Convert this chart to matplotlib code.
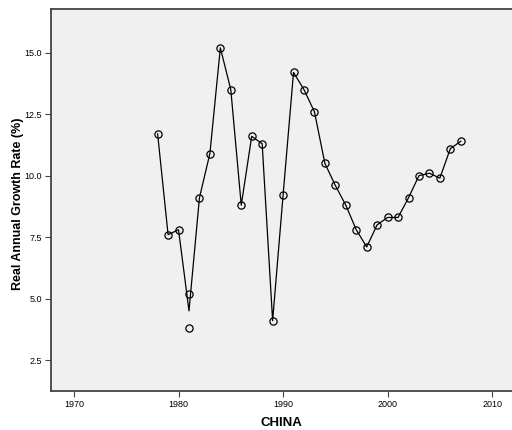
from matplotlib import pyplot as plt
from matplotlib.ticker import FormatStrFormatter
import pandas as pd

years = [1978, 1979, 1980, 1981, 1981, 1982, 1983, 1984, 1985, 1986, 1987,
         1988, 1989, 1990, 1991, 1992, 1993, 1994, 1995, 1996, 1997, 1998,
         1999, 2000, 2001, 2002, 2003, 2004, 2005, 2006, 2007]
growth = [11.7, 7.6, 7.8, 5.2, 3.8, 9.1, 10.9, 15.2, 13.5, 8.8, 11.6,
          11.3, 4.1, 9.2, 14.2, 13.5, 12.6, 10.5, 9.6, 8.8, 7.8, 7.1,
          8.0, 8.3, 8.3, 9.1, 10.0, 10.1, 9.9, 11.1, 11.4]

x_ticks = [1970, 1980, 1990, 2000, 2010]
y_ticks = [2.5, 5.0, 7.5, 10.0, 12.5, 15.0]

plt.rcParams['font.family'] = ['Liberation Sans', 'DejaVu Sans']

data = pd.DataFrame({'year': years, 'growth': growth})
# line goes through the mean of each year
means = data.groupby('year')['growth'].mean()

fig = plt.figure(figsize=(5.12, 4.30), dpi=100)
ax = fig.add_axes([51 / 512, 39 / 430, 461 / 512, 382 / 430])
ax.set_facecolor('#f0f0f0')

ax.plot(means.index, means.values, color='black', linewidth=0.9, zorder=2)
ax.plot(data['year'], data['growth'], linestyle='none', marker='o',
        markersize=5.2, markerfacecolor='none', markeredgecolor='black',
        markeredgewidth=0.9, zorder=3)

ax.set_xlim(1967.8, 2011.9)
ax.set_ylim(1.24, 16.78)
ax.set_xticks(x_ticks)
ax.set_yticks(y_ticks)
ax.yaxis.set_major_formatter(FormatStrFormatter('%.1f'))
ax.tick_params(labelsize=6.5, length=4, width=0.8, pad=2.5,
               colors='#444444', labelcolor='black')

for side in ['left', 'bottom', 'top']:
    ax.spines[side].set_color('#444444')
    ax.spines[side].set_linewidth(1.3)
ax.spines['right'].set_visible(False)

ax.set_ylabel('Real Annual Growth Rate (%)', fontsize=9, fontweight='bold',
              va='center')
ax.yaxis.set_label_coords(-0.072, 0.49)
ax.set_xlabel('CHINA', fontsize=9.5, fontweight='bold', va='center')
ax.xaxis.set_label_coords(0.5, -0.083)

fig.savefig('out.png', dpi=100)
